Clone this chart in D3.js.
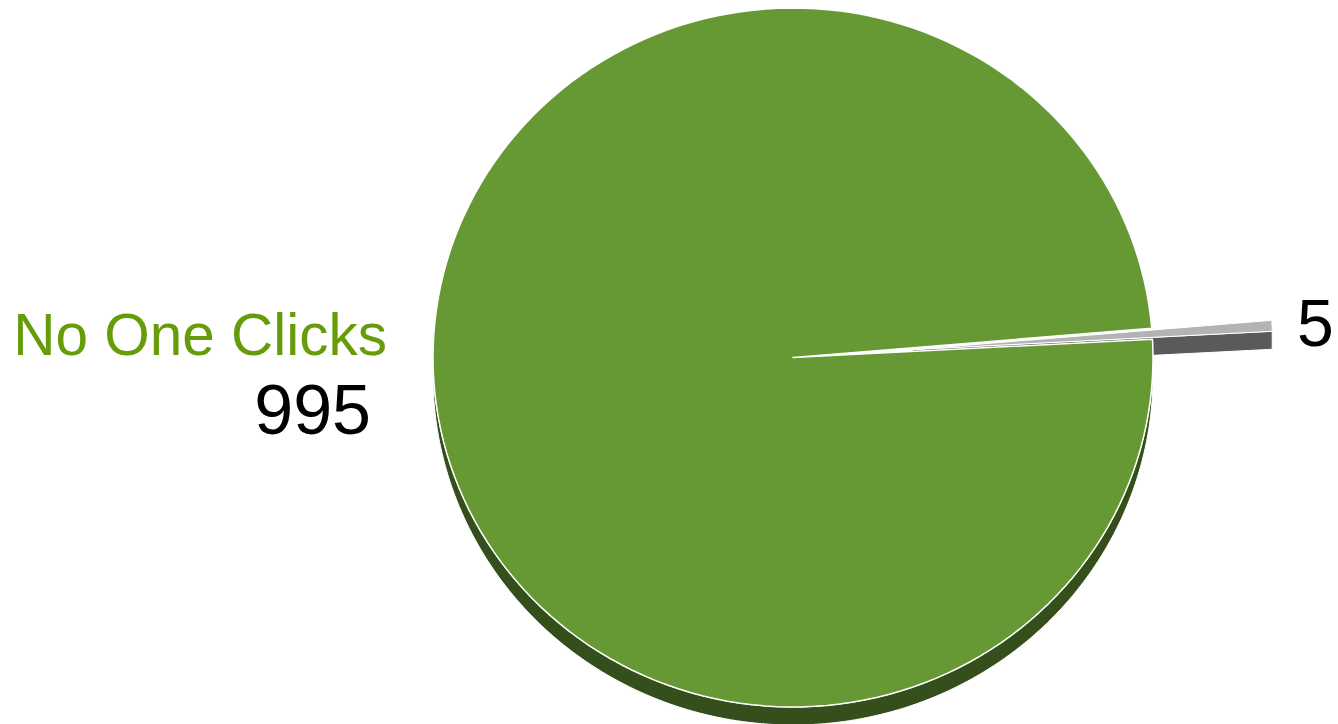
<html>
<head>
  <script src="https://d3js.org/d3.v7.min.js"></script>
  <style>
    body { margin: 0; background: #fff; font-family: 'Liberation Sans', Arial, Helvetica, sans-serif; }
  </style>
</head>
<body>
  <svg id="pie" width="1338" height="724"></svg>
  <script>
    // data
    const categories = ["No One Clicks", "Someone Clicks"];
    const values = [995, 5];

    // colours
    const topColors = ["#669933", "#b3b3b3"];
    const sideColors = ["#344f1b", "#5a5a5a"];
    const nameColor = "#669c0a";

    const svg = d3.select("svg#pie");
    const cx = 793, cy = 357.5;
    const rx = 360, ry = 349.5;
    const depth = 18;
    const explode = [0, 120];

    const pie = d3.pie()
      .sort(null)
      .startAngle(87.0 * Math.PI / 180)
      .endAngle(87.0 * Math.PI / 180 + 2 * Math.PI);
    const arcs = pie(values);

    // point on the ellipse (d3 angle: 0 at top, clockwise)
    const pt = (ox, oy, a, dy = 0) => [ox + rx * Math.sin(a), oy - ry * Math.cos(a) + dy];
    const centerOf = (d, i) => {
      const mid = (d.startAngle + d.endAngle) / 2;
      return [cx + explode[i] * Math.sin(mid), cy - explode[i] * Math.cos(mid) * ry / rx];
    };
    const line = d3.line();
    const steps = a => d3.range(0, 1.0001, 1 / 180).map(t => a[0] + t * (a[1] - a[0]));

    function topPath(d, i) {
      const [ox, oy] = centerOf(d, i);
      const pts = [[ox, oy]].concat(steps([d.startAngle, d.endAngle]).map(a => pt(ox, oy, a)));
      return line(pts) + "Z";
    }

    function sidePath(d, i) {
      const [ox, oy] = centerOf(d, i);
      let parts = [];
      // outer curved face, only the front half
      const lo = Math.max(d.startAngle, Math.PI / 2), hi = Math.min(d.endAngle, 3 * Math.PI / 2);
      if (hi > lo) {
        const s = steps([lo, hi]);
        const pts = s.map(a => pt(ox, oy, a)).concat(s.slice().reverse().map(a => pt(ox, oy, a, depth)));
        parts.push(line(pts) + "Z");
      }
      // radial cut face at the end of the pulled-out slice
      if (explode[i] > 0) {
        const e = pt(ox, oy, d.endAngle);
        parts.push(line([[ox, oy], e, [e[0], e[1] + depth], [ox, oy + depth]]) + "Z");
      }
      return parts.join("");
    }

    const g = svg.append("g");

    // sides first (small slice side sits behind the big top)
    g.selectAll("path.side")
      .data(arcs.map((d, i) => ({ d, i })).sort((a, b) => explode[b.i] - explode[a.i]))
      .join("path").attr("class", "side")
      .attr("d", o => sidePath(o.d, o.i))
      .attr("fill", o => sideColors[o.i])
      .attr("stroke", "#fff")
      .attr("stroke-width", 1);

    // top faces, pulled-out slice last
    g.selectAll("path.top")
      .data(arcs.map((d, i) => ({ d, i })).sort((a, b) => explode[a.i] - explode[b.i]))
      .join("path").attr("class", "top")
      .attr("d", o => topPath(o.d, o.i))
      .attr("fill", o => topColors[o.i])
      .attr("stroke", "#fff")
      .attr("stroke-width", o => explode[o.i] > 0 ? 1 : 1.5)
      .attr("stroke-linejoin", "round");

    // labels
    const labels = svg.append("g");
    labels.append("text")
      .attr("x", 387).attr("y", 355)
      .attr("text-anchor", "end")
      .attr("font-size", 58.5)
      .attr("fill", nameColor)
      .text(categories[0]);
    labels.append("text")
      .attr("x", 371).attr("y", 434)
      .attr("text-anchor", "end")
      .attr("font-size", 70)
      .attr("fill", "#000")
      .text(values[0]);
    labels.append("text")
      .attr("x", 1297).attr("y", 346)
      .attr("text-anchor", "start")
      .attr("font-size", 66)
      .attr("fill", "#000")
      .text(values[1]);
  </script>
</body>
</html>
